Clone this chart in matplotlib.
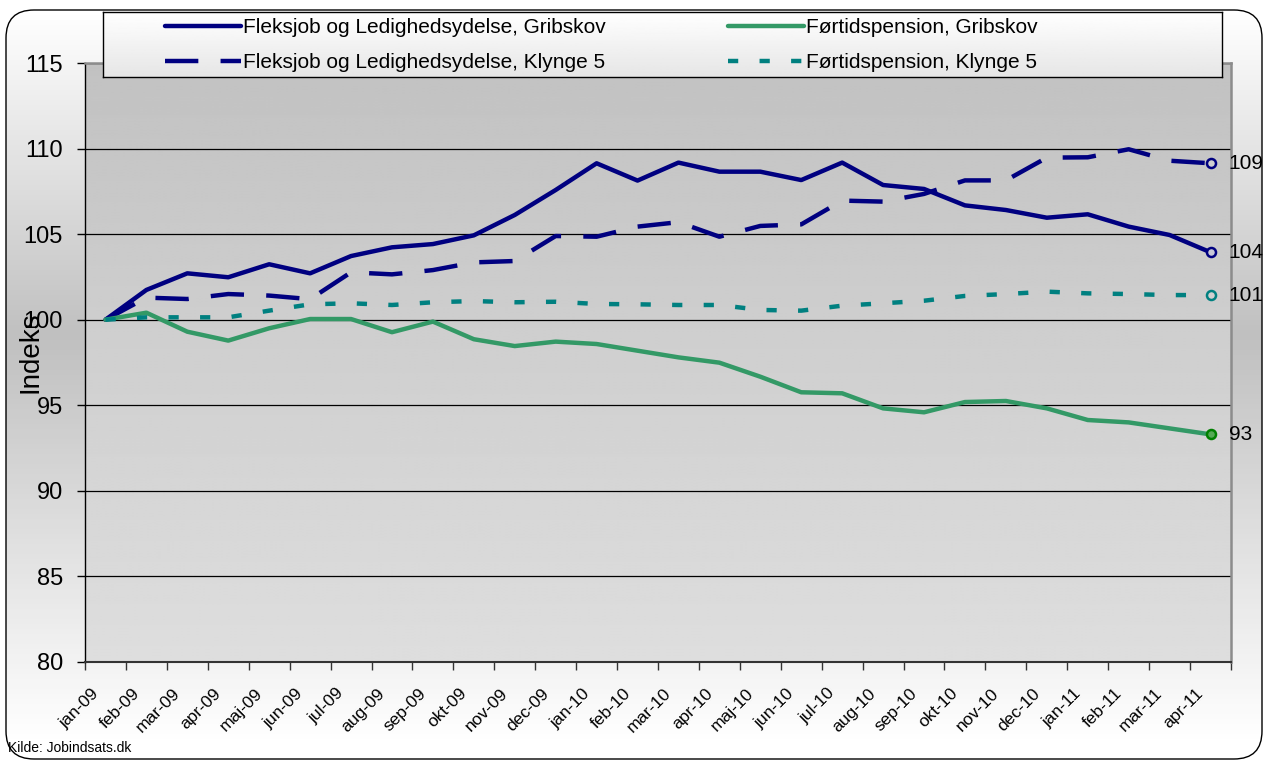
import matplotlib
matplotlib.use("Agg")
import matplotlib.pyplot as plt
import numpy as np
from matplotlib.lines import Line2D
from matplotlib.patches import FancyBboxPatch

plt.rcParams["font.family"] = ["Liberation Sans", "DejaVu Sans"]

# --- data -----------------------------------------------------------------
months = [
    "jan-09", "feb-09", "mar-09", "apr-09", "maj-09", "jun-09", "jul-09",
    "aug-09", "sep-09", "okt-09", "nov-09", "dec-09", "jan-10", "feb-10",
    "mar-10", "apr-10", "maj-10", "jun-10", "jul-10", "aug-10", "sep-10",
    "okt-10", "nov-10", "dec-10", "jan-11", "feb-11", "mar-11", "apr-11",
]
fleks_gribskov = [
    100.0, 101.74, 102.71, 102.48, 103.24, 102.71, 103.72, 104.23, 104.42,
    104.93, 106.12, 107.58, 109.14, 108.13, 109.18, 108.65, 108.65, 108.16,
    109.18, 107.87, 107.64, 106.68, 106.41, 105.96, 106.16, 105.44, 104.95,
    103.94,
]
fleks_klynge5 = [
    100.0, 101.29, 101.21, 101.5, 101.41, 101.2, 102.77, 102.65, 102.9,
    103.35, 103.43, 104.89, 104.85, 105.44, 105.7, 104.85, 105.48, 105.57,
    106.96, 106.9, 107.35, 108.14, 108.14, 109.47, 109.49, 109.96, 109.29,
    109.14,
]
foert_gribskov = [
    100.0, 100.41, 99.3, 98.78, 99.5, 100.04, 100.04, 99.27, 99.89, 98.86,
    98.46, 98.72, 98.58, 98.19, 97.8, 97.49, 96.67, 95.76, 95.7, 94.82,
    94.59, 95.19, 95.25, 94.82, 94.14, 94.0, 93.65, 93.3,
]
foert_klynge5 = [
    100.0, 100.14, 100.14, 100.14, 100.53, 100.9, 100.96, 100.86, 101.02,
    101.09, 101.02, 101.05, 100.92, 100.9, 100.86, 100.86, 100.57, 100.53,
    100.82, 100.96, 101.11, 101.39, 101.5, 101.64, 101.54, 101.5, 101.44,
    101.44,
]
y_ticks = [80, 85, 90, 95, 100, 105, 110, 115]

# --- style ----------------------------------------------------------------
NAVY = "#000080"
GREEN = "#339966"
TEAL = "#008080"
W, H = 1265, 760

series = [
    ("Fleksjob og Ledighedsydelse, Gribskov", fleks_gribskov,
     dict(color=NAVY, lw=3.2, solid_capstyle="round"), NAVY, "#c8c8d8"),
    ("Fleksjob og Ledighedsydelse, Klynge 5", fleks_klynge5,
     dict(color=NAVY, lw=3.2, dashes=(7.5, 5)), NAVY, "#d0d0d0"),
    ("Førtidspension, Gribskov", foert_gribskov,
     dict(color=GREEN, lw=3.2, solid_capstyle="round"), "#008000", "#55aa55"),
    ("Førtidspension, Klynge 5", foert_klynge5,
     dict(color=TEAL, lw=3.2, dashes=(2.3, 4.8)), TEAL, "#d0d0d0"),
]

fig = plt.figure(figsize=(W / 100, H / 100), dpi=100)
fig.patch.set_facecolor("white")

# chart area: white-grey-white vertical gradient inside a rounded frame
bg = fig.add_axes([0, 0, 1, 1], zorder=-1)
bg.set_axis_off()
frame = FancyBboxPatch((6, 10), 1256, 749,
                       boxstyle="round,pad=0,rounding_size=28",
                       facecolor="none", edgecolor="black", lw=1.0, zorder=2)
bg.add_patch(frame)
edges_y = np.linspace(10, 759, 151)
mid_y = (edges_y[:-1] + edges_y[1:]) / 2
shade = np.interp(mid_y, [10, 335, 745], [1.0, 0.75, 1.0])
mesh = bg.pcolormesh([6, 1262], edges_y, shade[:, None], cmap="gray",
                     vmin=0, vmax=1, shading="flat", zorder=1)
mesh.set_clip_path(frame)
bg.set_xlim(0, W)
bg.set_ylim(H, 0)

# plot area
ax = fig.add_axes([85 / W, 1 - 662 / H, 1146 / W, 599 / H])
ax.set_facecolor("none")
pa = np.repeat(np.linspace(0.76, 0.87, 200)[:, None], 2, axis=1)
ax.imshow(pa, extent=[0, 1, 0, 1], transform=ax.transAxes, cmap="gray",
          vmin=0, vmax=1, aspect="auto", origin="upper", zorder=0)

x = np.arange(len(months))
handles = []
for label, vals, style, mec, mfc in series:
    ax.plot(x, vals, zorder=3, **style)
    ax.plot(x[-1], vals[-1], "o", ms=6.5, mew=1.8, mec=mec, mfc=mfc, zorder=4)
    ax.annotate(f"{round(vals[-1])}", xy=(x[-1], vals[-1]), xytext=(18, 0),
                textcoords="offset pixels", va="center", ha="left",
                fontsize=15, annotation_clip=False)
    handles.append(Line2D([], [], **style))

ax.set_xlim(-0.5, len(months) - 0.5)
ax.set_ylim(80, 115)
ax.set_yticks(y_ticks)
ax.yaxis.grid(True, color="black", lw=0.9)
ax.set_axisbelow(True)

# month labels end a little left of each category centre
ax.set_xticks(x - 0.1)
ax.set_xticklabels(months, rotation=45, ha="right", va="top", fontsize=12.5)
ax.set_xticks(np.arange(-0.5, len(months)), minor=True)
ax.tick_params(axis="x", which="major", length=0, pad=17)
ax.tick_params(axis="x", which="minor", length=5.8, width=1, color="#333333",
               direction="out")
ax.tick_params(axis="y", length=5.8, width=1, pad=10, labelsize=17)

for side in ("top", "right"):
    ax.spines[side].set_color("#8c8c8c")
    ax.spines[side].set_linewidth(1.8)
ax.spines["left"].set_color("black")
ax.spines["left"].set_linewidth(1.0)
ax.spines["bottom"].set_color("#333333")
ax.spines["bottom"].set_linewidth(1.5)

ax.set_ylabel("Indeks", fontsize=20)
ax.yaxis.set_label_coords((43 - 85) / 1146, (662 - 352) / 599)

# legend box with its own light gradient
lax = fig.add_axes([103 / W, 1 - 77 / H, 1119 / W, 65 / H])
lax.set_xticks([])
lax.set_yticks([])
lax.imshow(np.repeat(np.linspace(1.0, 0.9, 50)[:, None], 2, axis=1),
           extent=[0, 1, 0, 1], transform=lax.transAxes, cmap="gray",
           vmin=0, vmax=1, aspect="auto", origin="upper")
lax.set_xlim(0, 1)
lax.set_ylim(0, 1)
for sp in lax.spines.values():
    sp.set_color("black")
    sp.set_linewidth(1.0)
lax.legend(handles, [s[0] for s in series], ncol=2, loc="center left",
           bbox_to_anchor=(62 / 1119, 0.49), frameon=False, fontsize=15,
           handlelength=3.65, handletextpad=0.1, columnspacing=5.86,
           labelspacing=0.78, borderpad=0, borderaxespad=0)

fig.text(8 / W, 1 - 748 / H, "Kilde: Jobindsats.dk", fontsize=10,
         va="center", ha="left")

fig.savefig("out.png", dpi=100, facecolor="white")
